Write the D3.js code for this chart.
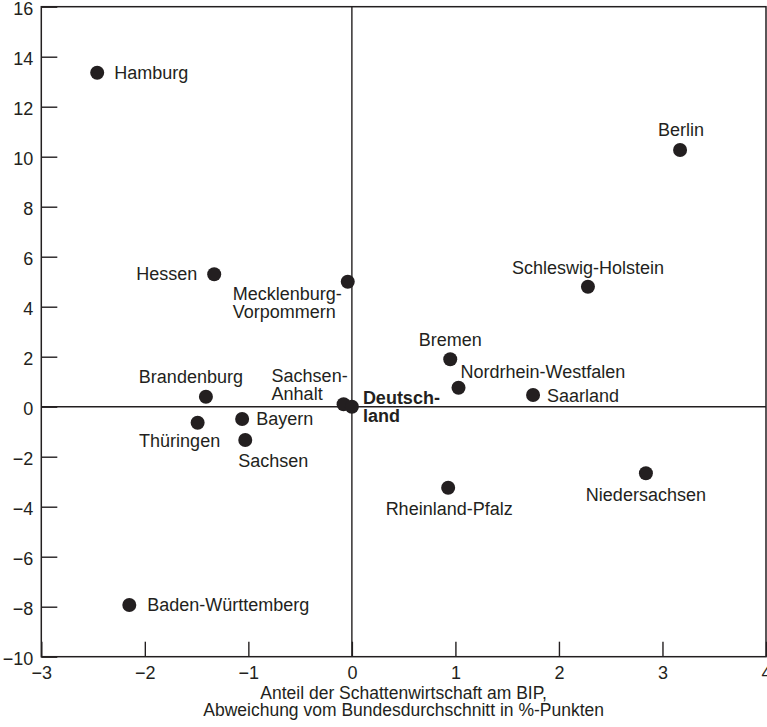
<!DOCTYPE html>
<html>
<head>
<meta charset="utf-8">
<script src="https://cdn.jsdelivr.net/npm/d3@7"></script>
<style>
  html, body { margin: 0; padding: 0; background: #fff; }
  svg { display: block; font-family: "Liberation Sans", Arial, sans-serif; }
</style>
</head>
<body>
<svg id="chart" width="767" height="727"></svg>
<script>
// ---- data ----
const states = ["Hamburg","Berlin","Schleswig-Holstein","Hessen","Mecklenburg-Vorpommern",
  "Sachsen-Anhalt","Deutschland","Bremen","Nordrhein-Westfalen","Saarland",
  "Rheinland-Pfalz","Niedersachsen","Brandenburg","Thüringen","Bayern","Sachsen","Baden-Württemberg"];
const xValues = [-2.46, 3.17, 2.28, -1.33, -0.04, -0.08, 0.0, 0.95, 1.03, 1.75, 0.93, 2.84, -1.41, -1.49, -1.06, -1.03, -2.15];
const yValues = [13.36, 10.27, 4.8, 5.3, 5.0, 0.1, 0.0, 1.9, 0.76, 0.47, -3.24, -2.66, 0.4, -0.64, -0.49, -1.33, -7.93];
const xTicks = [-3, -2, -1, 0, 1, 2, 3, 4];
const yTicks = [-10, -8, -6, -4, -2, 0, 2, 4, 6, 8, 10, 12, 14, 16];
const xTitle = ["Anteil der Schattenwirtschaft am BIP,", "Abweichung vom Bundesdurchschnitt in %-Punkten"];

// ---- label layout (offsets relative to the dot) ----
const labelLayout = {
  "Hamburg":               {lines:["Hamburg"], anchor:"start", dx:17, dy:6},
  "Berlin":                {lines:["Berlin"], anchor:"middle", dx:1, dy:-14},
  "Schleswig-Holstein":    {lines:["Schleswig-Holstein"], anchor:"middle", dx:0, dy:-13},
  "Hessen":                {lines:["Hessen"], anchor:"end", dx:-17, dy:6},
  "Mecklenburg-Vorpommern":{lines:["Mecklenburg-","Vorpommern"], anchor:"start", dx:-115, dy:18},
  "Sachsen-Anhalt":        {lines:["Sachsen-","Anhalt"], anchor:"start", dx:-72, dy:-22},
  "Deutschland":           {lines:["Deutsch-","land"], anchor:"start", dx:11, dy:-3, bold:true},
  "Bremen":                {lines:["Bremen"], anchor:"middle", dx:0, dy:-13},
  "Nordrhein-Westfalen":   {lines:["Nordrhein-Westfalen"], anchor:"start", dx:2, dy:-10},
  "Saarland":              {lines:["Saarland"], anchor:"start", dx:14, dy:7},
  "Rheinland-Pfalz":       {lines:["Rheinland-Pfalz"], anchor:"middle", dx:1, dy:27},
  "Niedersachsen":         {lines:["Niedersachsen"], anchor:"middle", dx:0, dy:28},
  "Brandenburg":           {lines:["Brandenburg"], anchor:"middle", dx:-15, dy:-14},
  "Thüringen":             {lines:["Thüringen"], anchor:"middle", dx:-18, dy:24},
  "Bayern":                {lines:["Bayern"], anchor:"start", dx:14, dy:6},
  "Sachsen":               {lines:["Sachsen"], anchor:"middle", dx:28, dy:27},
  "Baden-Württemberg":     {lines:["Baden-Württemberg"], anchor:"start", dx:18, dy:6}
};

const ink = "#231f20";
const fontSize = 18;
const svg = d3.select("#chart");
const x = d3.scaleLinear().domain([-3, 4]).range([41.3, 766]);
const y = d3.scaleLinear().domain([-10, 16]).range([656.7, 6.7]);

// axes
const yAxis = d3.axisLeft(y).tickValues(yTicks).tickFormat(d3.format("d"))
  .tickSizeInner(-16).tickSizeOuter(0).tickPadding(8);
const xAxis = d3.axisBottom(x).tickValues(xTicks).tickFormat(d3.format("d"))
  .tickSizeInner(-15).tickSizeOuter(0).tickPadding(10);

const gy = svg.append("g").attr("transform", `translate(${x(-3)},0)`).call(yAxis);
const gx = svg.append("g").attr("transform", `translate(0,${y(-10)})`).call(xAxis);
[gx, gy].forEach(g => {
  g.select(".domain").remove();
  g.selectAll(".tick line").attr("stroke", ink).attr("stroke-width", 1.4);
  g.selectAll(".tick text").attr("fill", ink).attr("font-size", fontSize)
    .attr("font-family", "'Liberation Sans', Arial, sans-serif");
});
gy.selectAll(".tick text").attr("dy", "0.43em");

// frame
svg.append("rect")
  .attr("x", x(-3)).attr("y", y(16))
  .attr("width", x(4) - x(-3)).attr("height", y(-10) - y(16))
  .attr("fill", "none").attr("stroke", ink).attr("stroke-width", 1.5);

// zero lines
svg.append("line").attr("x1", x(0)).attr("x2", x(0)).attr("y1", y(16)).attr("y2", y(-10))
  .attr("stroke", ink).attr("stroke-width", 1.4);
svg.append("line").attr("x1", x(-3)).attr("x2", x(4)).attr("y1", y(0)).attr("y2", y(0))
  .attr("stroke", ink).attr("stroke-width", 1.4);

// points
const data = states.map((s, i) => ({name: s, x: xValues[i], y: yValues[i]}));
svg.append("g").selectAll("circle").data(data).join("circle")
  .attr("cx", d => x(d.x)).attr("cy", d => y(d.y)).attr("r", 7).attr("fill", ink);

// labels
const lg = svg.append("g").attr("font-size", fontSize).attr("fill", ink);
data.forEach(d => {
  const L = labelLayout[d.name];
  const t = lg.append("text")
    .attr("text-anchor", L.anchor)
    .attr("font-weight", L.bold ? "bold" : "normal");
  L.lines.forEach((ln, k) => {
    t.append("tspan").attr("x", x(d.x) + L.dx).attr("y", y(d.y) + L.dy + k * 18).text(ln);
  });
});

// axis title
const tt = svg.append("text").attr("text-anchor", "middle").attr("font-size", 17.5).attr("fill", ink);
xTitle.forEach((ln, k) => {
  tt.append("tspan").attr("x", (x(-3) + x(4)) / 2).attr("y", 699 + k * 17).text(ln);
});
</script>
</body>
</html>
